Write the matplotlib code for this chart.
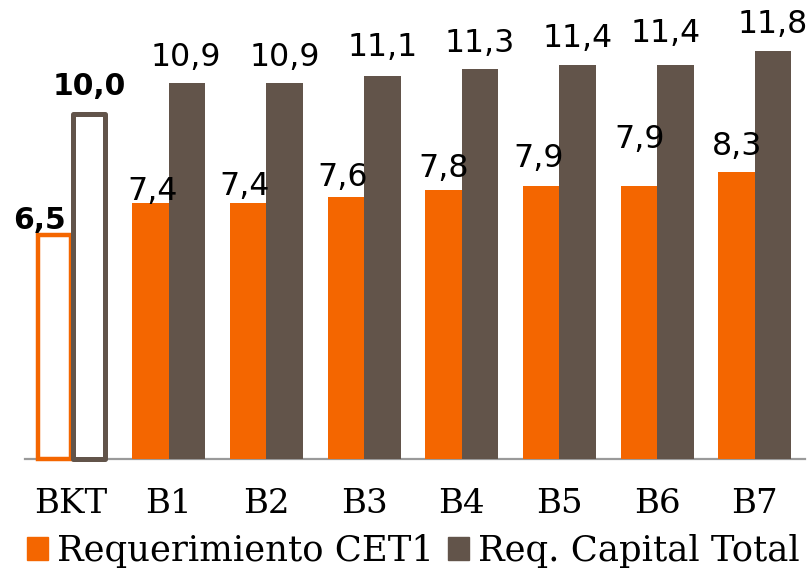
import numpy as np
import matplotlib
matplotlib.use("Agg")
import matplotlib.pyplot as plt

# -------------------------
# DATA
# -------------------------
bancos = ["BKT", "B1", "B2", "B3", "B4", "B5", "B6", "B7"]
req_cet1 = [6.5, 7.4, 7.4, 7.6, 7.8, 7.9, 7.9, 8.3]
req_total = [10.0, 10.9, 10.9, 11.1, 11.3, 11.4, 11.4, 11.8]

# label nudges (pixels) as placed in the original
cet1_dx = [-13, 2, -4, -3, 0, -3, 1, 0]
cet1_dy = [6, 3, 8, 11, 13, 19, 38, 17]
total_dx = [0, -1, 0, 0, 0, 0, -10, 0]
total_dy = [19, 17, 17, 20, 17, 18, 23, 18]

naranja = "#F46600"
marron = "#62544A"

# -------------------------
# FIGURA
# -------------------------
fig = plt.figure(figsize=(8.11, 5.70), dpi=100)
ax = fig.add_axes([25 / 811, 111 / 570, 780 / 811, 459 / 570])

x = np.arange(len(bancos))
w = 0.374

for i in range(len(bancos)):
    if i == 0:
        # BKT: barras huecas
        ax.bar(x[i], req_cet1[i], -(w - 0.035), align="edge", color="white",
               edgecolor=naranja, linewidth=3.2, clip_on=False, zorder=2)
        ax.bar(x[i] + 0.025, req_total[i], w - 0.05, align="edge", color="white",
               edgecolor=marron, linewidth=3.6, joinstyle="round",
               clip_on=False, zorder=3)
        peso, tam = "bold", 21.5
    else:
        ax.bar(x[i] - w / 2, req_cet1[i], w, color=naranja, zorder=2)
        ax.bar(x[i] + w / 2, req_total[i], w, color=marron, zorder=2)
        peso, tam = "normal", 22.8

    ax.annotate(f"{req_cet1[i]:.1f}".replace(".", ","),
                (x[i] - w / 2, req_cet1[i]), xytext=(cet1_dx[i], cet1_dy[i]),
                textcoords="offset pixels", ha="center", va="baseline",
                fontsize=tam, fontweight=peso, family="DejaVu Sans",
                annotation_clip=False)
    ax.annotate(f"{req_total[i]:.1f}".replace(".", ","),
                (x[i] + w / 2, req_total[i]), xytext=(total_dx[i], total_dy[i]),
                textcoords="offset pixels", ha="center", va="baseline",
                fontsize=tam, fontweight=peso, family="DejaVu Sans",
                annotation_clip=False)

ax.set_xlim(-0.471, 7.513)
ax.set_ylim(0, 13.29)

for s in ["top", "right", "left"]:
    ax.spines[s].set_visible(False)
ax.spines["bottom"].set_color("#9A9A9A")
ax.spines["bottom"].set_linewidth(1.6)
ax.spines["bottom"].set_zorder(1)

ax.set_yticks([])
ax.set_xticks(x)
ax.set_xticklabels(bancos, family="DejaVu Serif", fontsize=24.5)
ax.tick_params(axis="x", length=0, pad=21)

# -------------------------
# LEYENDA
# -------------------------
h1 = plt.Rectangle((0, 0), 1, 1, color=naranja)
h2 = plt.Rectangle((0, 0), 1, 1, color=marron)
fig.legend([h1, h2], ["Requerimiento CET1", "Req. Capital Total"],
           loc="center", bbox_to_anchor=(413 / 811, 1 - 551 / 570),
           ncol=2, frameon=False, prop={"family": "DejaVu Serif", "size": 25.5},
           handlelength=0.6, handleheight=0.58, handletextpad=0.25,
           columnspacing=0.4, borderpad=0, borderaxespad=0)

fig.savefig("out.png", dpi=100)
